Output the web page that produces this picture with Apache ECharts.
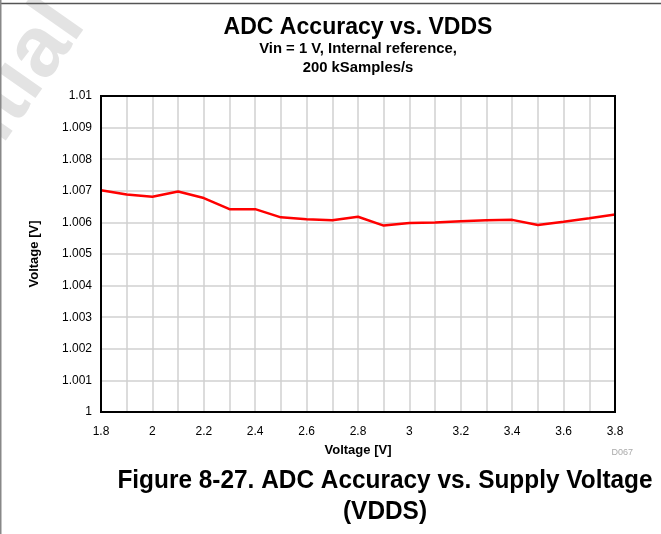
<!DOCTYPE html>
<html>
<head>
<meta charset="utf-8">
<style>
html,body{margin:0;padding:0;background:#fff;}
#chart{width:661px;height:534px;}
</style>
<script src="https://cdn.jsdelivr.net/npm/echarts@6/dist/echarts.min.js"></script>
</head>
<body>
<div id="chart"></div>
<script>
// Data
const xValues = [1.8, 1.9, 2.0, 2.1, 2.2, 2.3, 2.4, 2.5, 2.6, 2.7, 2.8, 2.9, 3.0, 3.1, 3.2, 3.3, 3.4, 3.5, 3.6, 3.7, 3.8];
const yValues = [1.00702, 1.00688, 1.00681, 1.00698, 1.00677, 1.00642, 1.00642, 1.00616, 1.00610, 1.00607, 1.00618, 1.00590, 1.00598, 1.00600, 1.00604, 1.00607, 1.00608, 1.00592, 1.00602, 1.00613, 1.00625];
const titleText = 'ADC Accuracy vs. VDDS';
const subtitleLines = ['Vin = 1 V, Internal reference,', '200 kSamples/s'];
const axisName = 'Voltage [V]';
const captionLines = ['Figure 8-27. ADC Accuracy vs. Supply Voltage', '(VDDS)'];

const FONT = '"Liberation Sans", Arial, Helvetica, sans-serif';
const chart = echarts.init(document.getElementById('chart'), null, {renderer: 'canvas'});
const seriesData = xValues.map((x, i) => [x, yValues[i]]);

function centeredText(text, x, y, size, scaleX, fill) {
  return {type: 'text', x: x, y: y, scaleX: scaleX, z: 10,
    style: {text: text, fontFamily: FONT, fontSize: size, fontWeight: 'bold', fill: fill || '#000',
            textAlign: 'center', textVerticalAlign: 'middle'}};
}

chart.setOption({
  backgroundColor: '#fff',
  animation: false,
  textStyle: {fontFamily: FONT},
  grid: {left: 101, right: 46, top: 96, bottom: 122, show: true, borderColor: '#000', borderWidth: 2, backgroundColor: 'transparent', z: 5},
  xAxis: {
    type: 'value', min: 1.8, max: 3.8, interval: 0.1,
    name: axisName, nameLocation: 'middle', nameGap: 32,
    nameTextStyle: {fontFamily: FONT, fontSize: 13, fontWeight: 'bold', color: '#000'},
    axisLine: {show: false}, axisTick: {show: false},
    axisLabel: {fontFamily: FONT, fontSize: 12, color: '#000', margin: 14,
      formatter: v => (Math.round(v * 10) % 2 === 0) ? String(parseFloat(v.toFixed(1))) : ''},
    splitLine: {show: true, lineStyle: {color: '#d0d0d0', width: 1.5}}
  },
  yAxis: {
    type: 'value', min: 1, max: 1.01, interval: 0.001,
    name: axisName, nameLocation: 'middle', nameGap: 60,
    nameTextStyle: {fontFamily: FONT, fontSize: 13, fontWeight: 'bold', color: '#000'},
    axisLine: {show: false}, axisTick: {show: false},
    axisLabel: {fontFamily: FONT, fontSize: 12, color: '#000', margin: 9,
      formatter: v => String(parseFloat(v.toFixed(3)))},
    splitLine: {show: true, lineStyle: {color: '#d0d0d0', width: 1.5}}
  },
  series: [{
    type: 'line', data: seriesData, showSymbol: false, symbol: 'none',
    lineStyle: {color: '#ff0000', width: 2.5}, z: 3
  }],
  graphic: [
    {type: 'text', x: -34, y: 156, rotation: 0.96, z: -1,
     style: {text: 'ntial', fontFamily: FONT, fontSize: 86, fontWeight: 'bold', fill: '#e3e3e3', textAlign: 'left', textVerticalAlign: 'middle'}},
    {type: 'line', shape: {x1: 0, y1: 3.5, x2: 661, y2: 3.5}, style: {stroke: '#555', lineWidth: 1.5}},
    {type: 'line', shape: {x1: 0.75, y1: 0, x2: 0.75, y2: 534}, style: {stroke: '#888', lineWidth: 1.5}},
    centeredText(titleText, 358, 27, 24, 0.96),
    centeredText(subtitleLines[0], 358, 49, 15, 0.99),
    centeredText(subtitleLines[1], 358, 68, 15, 0.99),
    {type: 'text', x: 633, y: 453, style: {text: 'D067', fontFamily: FONT, fontSize: 9, fill: '#aaa', textAlign: 'right', textVerticalAlign: 'middle'}},
    centeredText(captionLines[0], 385, 481, 25, 0.976),
    centeredText(captionLines[1], 385, 512, 25, 0.976)
  ]
});
</script>
</body>
</html>
